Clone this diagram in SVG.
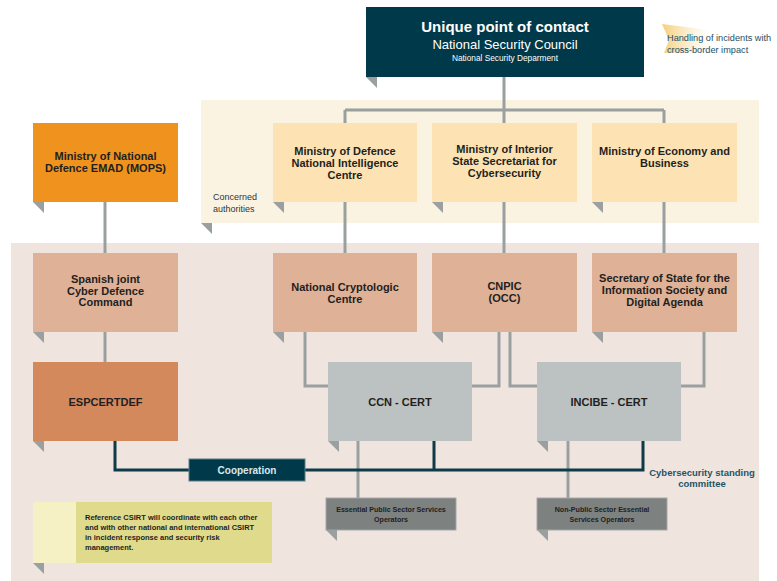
<svg xmlns="http://www.w3.org/2000/svg" width="777" height="581" viewBox="0 0 777 581">
<defs>
<style>
text{font-family:"Liberation Sans",Arial,sans-serif;text-anchor:middle}
.b{font-weight:bold;font-size:11px;fill:#231f20}
.tab{fill:#9aa0a0}
.ln{fill:none;stroke:#9aa0a0;stroke-width:3}
.dk{fill:none;stroke:#0d3b49;stroke-width:3}
.min{fill:#fde3b3}
.org{fill:#dfb196}
.cert{fill:#bcc2c1}
.op{fill:#7d8180;stroke:#a3a7a7;stroke-width:1}
.opt{font-weight:bold;font-size:7.1px;fill:#1e1e1e}
.note{font-weight:bold;font-size:7.5px;fill:#231f20;text-anchor:start}
</style>
<linearGradient id="flag" x1="0" y1="0" x2="1" y2="0">
<stop offset="0" stop-color="#f4cf7a"/>
<stop offset="1" stop-color="#f8e4b0" stop-opacity="0"/>
</linearGradient>
</defs>

<!-- panels -->
<rect x="201" y="100" width="558" height="123" fill="#faf3e2"/>
<polygon class="tab" points="201,223 212,223 212,234"/>
<rect x="11" y="243" width="748" height="338" fill="#f0e4df"/>

<!-- connectors -->
<g id="connectors">
<path class="ln" d="M504,77 V110 M345,110 H664 M345,110 V253 M504,110 V253 M664,110 V253"/>
<path class="ln" d="M105,202 V362"/>
<path class="ln" d="M305,332 V386 H328 M499,332 V386 H472 M510,332 V386 H537 M704,332 V386 H681"/>
<path class="ln" d="M358,441 V498 M568,441 V498"/>
<path class="dk" d="M115,441 V470 H643 V441 M434,441 V470"/>
</g>

<g id="top">
<rect x="366" y="7" width="278" height="70" fill="#00394a"/>
<polygon class="tab" points="366,77 377,77 377,88"/>
<text x="505" y="32" font-size="15" font-weight="bold" fill="#fff">Unique point of contact</text>
<text x="505" y="49" font-size="13" fill="#fff">National Security Council</text>
<text x="505" y="61" font-size="8.3" fill="#fff">National Security Deparment</text>
</g>

<g id="handling">
<polygon points="662,24 710,30 710,52 664,53 669,40" fill="url(#flag)"/>
<text x="667" y="41" font-size="9.2" fill="#1c4e63" style="text-anchor:start">Handling of incidents with</text>
<text x="667" y="53" font-size="9.2" fill="#1c4e63" style="text-anchor:start">cross-border impact</text>
</g>

<g id="concerned">
<text x="213" y="200" font-size="9" fill="#333" style="text-anchor:start">Concerned</text>
<text x="213" y="212" font-size="9" fill="#333" style="text-anchor:start">authorities</text>
</g>

<g id="mops">
<rect x="33" y="123" width="145" height="79" fill="#f0921e"/>
<polygon class="tab" points="33,202 44,202 44,213"/>
<text class="b" x="105.5" y="160">Ministry of National</text>
<text class="b" x="105.5" y="172">Defence EMAD (MOPS)</text>
</g>

<g id="defence">
<rect class="min" x="273" y="123" width="144" height="79"/>
<polygon class="tab" points="273,202 284,202 284,213"/>
<text class="b" x="345" y="155">Ministry of Defence</text>
<text class="b" x="345" y="167">National Intelligence</text>
<text class="b" x="345" y="179">Centre</text>
</g>

<g id="interior">
<rect class="min" x="432" y="123" width="145" height="79"/>
<polygon class="tab" points="432,202 443,202 443,213"/>
<text class="b" x="504.5" y="153">Ministry of Interior</text>
<text class="b" x="504.5" y="165">State Secretariat for</text>
<text class="b" x="504.5" y="177">Cybersecurity</text>
</g>

<g id="economy">
<rect class="min" x="592" y="123" width="145" height="79"/>
<polygon class="tab" points="592,202 603,202 603,213"/>
<text class="b" x="664.5" y="155">Ministry of Economy and</text>
<text class="b" x="664.5" y="167">Business</text>
</g>

<g id="spanish">
<rect class="org" x="33" y="253" width="145" height="79"/>
<polygon class="tab" points="33,332 44,332 44,343"/>
<text class="b" x="105.5" y="283">Spanish joint</text>
<text class="b" x="105.5" y="295">Cyber Defence</text>
<text class="b" x="105.5" y="306">Command</text>
</g>

<g id="ncc">
<rect class="org" x="273" y="253" width="144" height="79"/>
<polygon class="tab" points="273,332 284,332 284,343"/>
<text class="b" x="345" y="291">National Cryptologic</text>
<text class="b" x="345" y="303">Centre</text>
</g>

<g id="cnpic">
<rect class="org" x="432" y="253" width="145" height="79"/>
<polygon class="tab" points="432,332 443,332 443,343"/>
<text class="b" x="504.5" y="290">CNPIC</text>
<text class="b" x="504.5" y="302">(OCC)</text>
</g>

<g id="secretary">
<rect class="org" x="592" y="253" width="145" height="79"/>
<polygon class="tab" points="592,332 603,332 603,343"/>
<text class="b" x="664.5" y="282">Secretary of State for the</text>
<text class="b" x="664.5" y="294">Information Society and</text>
<text class="b" x="664.5" y="306">Digital Agenda</text>
</g>

<g id="espcertdef">
<rect x="33" y="362" width="145" height="79" fill="#d4895c"/>
<polygon class="tab" points="33,441 44,441 44,452"/>
<text class="b" x="105.5" y="406">ESPCERTDEF</text>
</g>

<g id="ccn">
<rect class="cert" x="328" y="362" width="144" height="79"/>
<polygon class="tab" points="328,441 339,441 339,452"/>
<text class="b" x="400" y="406">CCN - CERT</text>
</g>

<g id="incibe">
<rect class="cert" x="537" y="362" width="144" height="79"/>
<polygon class="tab" points="537,441 548,441 548,452"/>
<text class="b" x="609" y="406">INCIBE - CERT</text>
</g>

<g id="cooperation">
<rect x="189" y="459" width="116" height="22" fill="#00394a" stroke="#5d7d86" stroke-width="1"/>
<text x="247" y="474" font-size="10" font-weight="bold" fill="#dbe8ea">Cooperation</text>
</g>

<g id="committee">
<text x="702" y="476" font-size="9.5" font-weight="bold" fill="#1f5566">Cybersecurity standing</text>
<text x="702" y="487" font-size="9.5" font-weight="bold" fill="#1f5566">committee</text>
</g>

<g id="public-ops">
<rect class="op" x="326" y="498" width="130" height="32"/>
<polygon class="tab" points="326,530 337,530 337,541"/>
<text class="opt" x="391" y="512">Essential Public Sector Services</text>
<text class="opt" x="391" y="522">Operators</text>
</g>

<g id="nonpublic-ops">
<rect class="op" x="537" y="498" width="130" height="32"/>
<polygon class="tab" points="537,530 548,530 548,541"/>
<text class="opt" x="602" y="512">Non-Public Sector Essential</text>
<text class="opt" x="602" y="522">Services Operators</text>
</g>

<g id="note">
<rect x="33" y="502" width="43" height="61" fill="#f5f1c5"/>
<rect x="76" y="502" width="196" height="61" fill="#e0da8c"/>
<polygon class="tab" points="33,563 44,563 44,574"/>
<text class="note" x="85" y="520">Reference CSIRT will coordinate with each other</text>
<text class="note" x="85" y="530">and with other national and international CSIRT</text>
<text class="note" x="85" y="540">in incident response and security risk</text>
<text class="note" x="85" y="550">management.</text>
</g>
</svg>
